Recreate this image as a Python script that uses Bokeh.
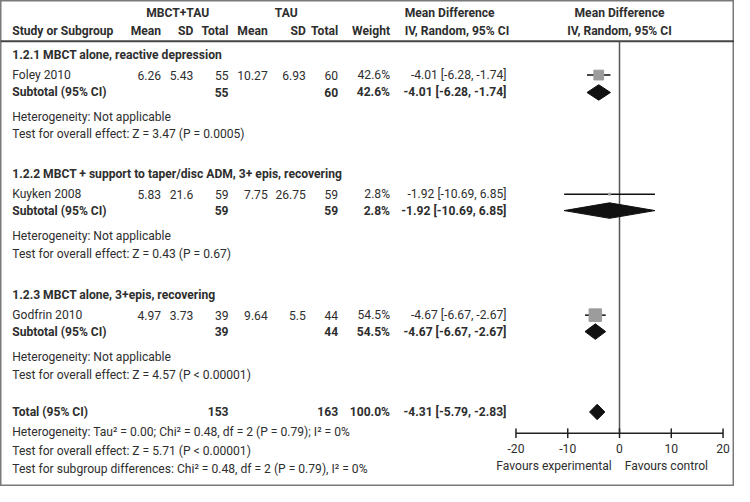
from bokeh.plotting import figure
from bokeh.models import Range1d, ColumnDataSource
from bokeh.core.properties import value
from bokeh.embed import file_html
from bokeh.resources import INLINE

# ---------------- data ----------------
groups = ["1.2.1 MBCT alone, reactive depression",
          "1.2.2 MBCT + support to taper/disc ADM, 3+ epis, recovering",
          "1.2.3 MBCT alone, 3+epis, recovering"]
studies = ["Foley 2010", "Kuyken 2008", "Godfrin 2010"]
exp_mean = [6.26, 5.83, 4.97]
exp_sd = [5.43, 21.6, 3.73]
exp_n = [55, 59, 39]
ctl_mean = [10.27, 7.75, 9.64]
ctl_sd = [6.93, 26.75, 5.5]
ctl_n = [60, 59, 44]
weight = [42.6, 2.8, 54.5]
md = [-4.01, -1.92, -4.67]
md_lo = [-6.28, -10.69, -6.67]
md_hi = [-1.74, 6.85, -2.67]
sub_het = ["Heterogeneity: Not applicable"] * 3
sub_test = ["Test for overall effect: Z = 3.47 (P = 0.0005)",
            "Test for overall effect: Z = 0.43 (P = 0.67)",
            "Test for overall effect: Z = 4.57 (P < 0.00001)"]
total_exp_n = 153
total_ctl_n = 163
total_weight = 100.0
total_md = -4.31
total_lo = -5.79
total_hi = -2.83
total_notes = ["Heterogeneity: Tau\u00b2 = 0.00; Chi\u00b2 = 0.48, df = 2 (P = 0.79); I\u00b2 = 0%",
               "Test for overall effect: Z = 5.71 (P < 0.00001)",
               "Test for subgroup differences: Chi\u00b2 = 0.48, df = 2 (P = 0.79), I\u00b2 = 0%"]
ticks = [-20, -10, 0, 10, 20]
favours = ["Favours experimental", "Favours control"]

# ---------------- layout ----------------
W, H = 734, 486
FONT = value("Roboto")
FS = "12.1px"
TXT = "#2e2e2e"

p = figure(width=W, height=H, output_backend="svg", toolbar_location=None,
           x_range=Range1d(0, 750), y_range=Range1d(502, 0), min_border=0,
           x_axis_type=None, y_axis_type=None)
p.grid.visible = False
p.outline_line_color = "#7a7a7a"
p.outline_line_width = 2
p.background_fill_color = "white"

# MD scale: zero at 632.5 px, 5.29 px per unit
px0, ppu = 632.5, 5.29
p.extra_x_ranges = {"md": Range1d((0 - px0) / ppu, (750 - px0) / ppu)}

# column positions
X_LABEL = 12
X_EM, X_ESD, X_EN = 164, 197, 233
X_CM, X_CSD, X_CN = 273, 312, 345
X_W = 398
X_CI = 517

group_y = [56, 179, 304]
study_y = [77, 200, 325]
sub_y = [95, 217, 342]
het_y = [120, 243, 368]
test_y = [138, 262, 387]
total_y = 425
note_y = [446, 465, 484]
axis_y = 447


def txt(xs, ys, texts, align="left", bold=False, color=TXT, size=FS):
    src = ColumnDataSource(dict(x=xs, y=ys, t=texts))
    p.text(x="x", y="y", text="t", source=src, text_font=FONT,
           text_font_size=size, text_color=color, text_align=align,
           text_baseline="middle",
           text_font_style="bold" if bold else "normal")


def ci_str(m, lo, hi):
    return f"{m:.2f} [{lo:.2f}, {hi:.2f}]"

# header
txt([181, 292], [13, 13], ["MBCT+TAU", "TAU"], align="center", bold=True)
txt([413], [13], ["Mean Difference"], bold=True)
txt([px0], [13], ["Mean Difference"], align="center", bold=True)
txt([X_LABEL], [32], ["Study or Subgroup"], bold=True)
txt([X_EM, X_ESD, X_EN, X_CM, X_CSD, X_CN, X_W], [32] * 7,
    ["Mean", "SD", "Total", "Mean", "SD", "Total", "Weight"], align="right", bold=True)
txt([413], [32], ["IV, Random, 95% CI"], bold=True)
txt([px0], [32], ["IV, Random, 95% CI"], align="center", bold=True)
p.segment(x0=[0], y0=[42], x1=[750], y1=[42], line_color="#444444", line_width=2)

# group headings
txt([X_LABEL] * 3, group_y, groups, bold=True)

# study rows
txt([X_LABEL] * 3, study_y, studies)
for xc, vals in [(X_EM, exp_mean), (X_ESD, exp_sd), (X_EN, exp_n),
                 (X_CM, ctl_mean), (X_CSD, ctl_sd), (X_CN, ctl_n)]:
    txt([xc] * 3, study_y, [str(v) for v in vals], align="right")
txt([X_W] * 3, study_y, [f"{w:.1f}%" for w in weight], align="right")
txt([X_CI] * 3, study_y, [ci_str(m, l, h) for m, l, h in zip(md, md_lo, md_hi)], align="right")

# subtotal rows
txt([X_LABEL] * 3, sub_y, ["Subtotal (95% CI)"] * 3, bold=True)
txt([X_EN] * 3, sub_y, [str(v) for v in exp_n], align="right", bold=True)
txt([X_CN] * 3, sub_y, [str(v) for v in ctl_n], align="right", bold=True)
txt([X_W] * 3, sub_y, [f"{w:.1f}%" for w in weight], align="right", bold=True)
txt([X_CI] * 3, sub_y, [ci_str(m, l, h) for m, l, h in zip(md, md_lo, md_hi)], align="right", bold=True)

txt([X_LABEL] * 3, het_y, sub_het)
txt([X_LABEL] * 3, test_y, sub_test)

# total
txt([X_LABEL], [total_y], ["Total (95% CI)"], bold=True)
txt([X_EN], [total_y], [str(total_exp_n)], align="right", bold=True)
txt([X_CN], [total_y], [str(total_ctl_n)], align="right", bold=True)
txt([X_W], [total_y], [f"{total_weight:.1f}%"], align="right", bold=True)
txt([X_CI], [total_y], [ci_str(total_md, total_lo, total_hi)], align="right", bold=True)
txt([X_LABEL] * 3, note_y, total_notes)

# ---------------- forest plot ----------------
p.segment(x0=[0], y0=[42], x1=[0], y1=[axis_y], x_range_name="md",
          line_color="#555555", line_width=1.5)

p.segment(x0=md_lo, y0=study_y, x1=md_hi, y1=study_y, x_range_name="md",
          line_color="#111111", line_width=1.5)
p.scatter(x=md, y=study_y, x_range_name="md", marker="square",
          size=[max(2.0, w * 0.23) for w in weight],
          fill_color="#9c9c9c", line_color="#9c9c9c")

dia_xs = [[l, m, h, m] for m, l, h in zip(md, md_lo, md_hi)] + [[total_lo, total_md, total_hi, total_md]]
dia_ys = [[y, y - 8, y, y + 8] for y in sub_y] + [[total_y, total_y - 8, total_y, total_y + 8]]
p.patches(xs=dia_xs, ys=dia_ys, x_range_name="md", fill_color="#111111", line_color="#111111")

# axis
p.segment(x0=[ticks[0]], y0=[axis_y], x1=[ticks[-1]], y1=[axis_y], x_range_name="md",
          line_color="#222222", line_width=1.5)
p.segment(x0=ticks, y0=[axis_y - 5] * len(ticks), x1=ticks, y1=[axis_y + 5] * len(ticks),
          x_range_name="md", line_color="#222222", line_width=1.5)
src_t = ColumnDataSource(dict(x=ticks, y=[463] * len(ticks), t=[str(t) for t in ticks]))
p.text(x="x", y="y", text="t", source=src_t, x_range_name="md", text_font=FONT,
       text_font_size=FS, text_color=TXT, text_align="center", text_baseline="middle")
src_f = ColumnDataSource(dict(x=[-1.5, 1.0], y=[481, 481], t=favours, a=["right", "left"]))
p.text(x="x", y="y", text="t", source=src_f, x_range_name="md", text_font=FONT,
       text_font_size=FS, text_color=TXT, text_align="a", text_baseline="middle")

open("out.html", "w").write(file_html(p, INLINE))
